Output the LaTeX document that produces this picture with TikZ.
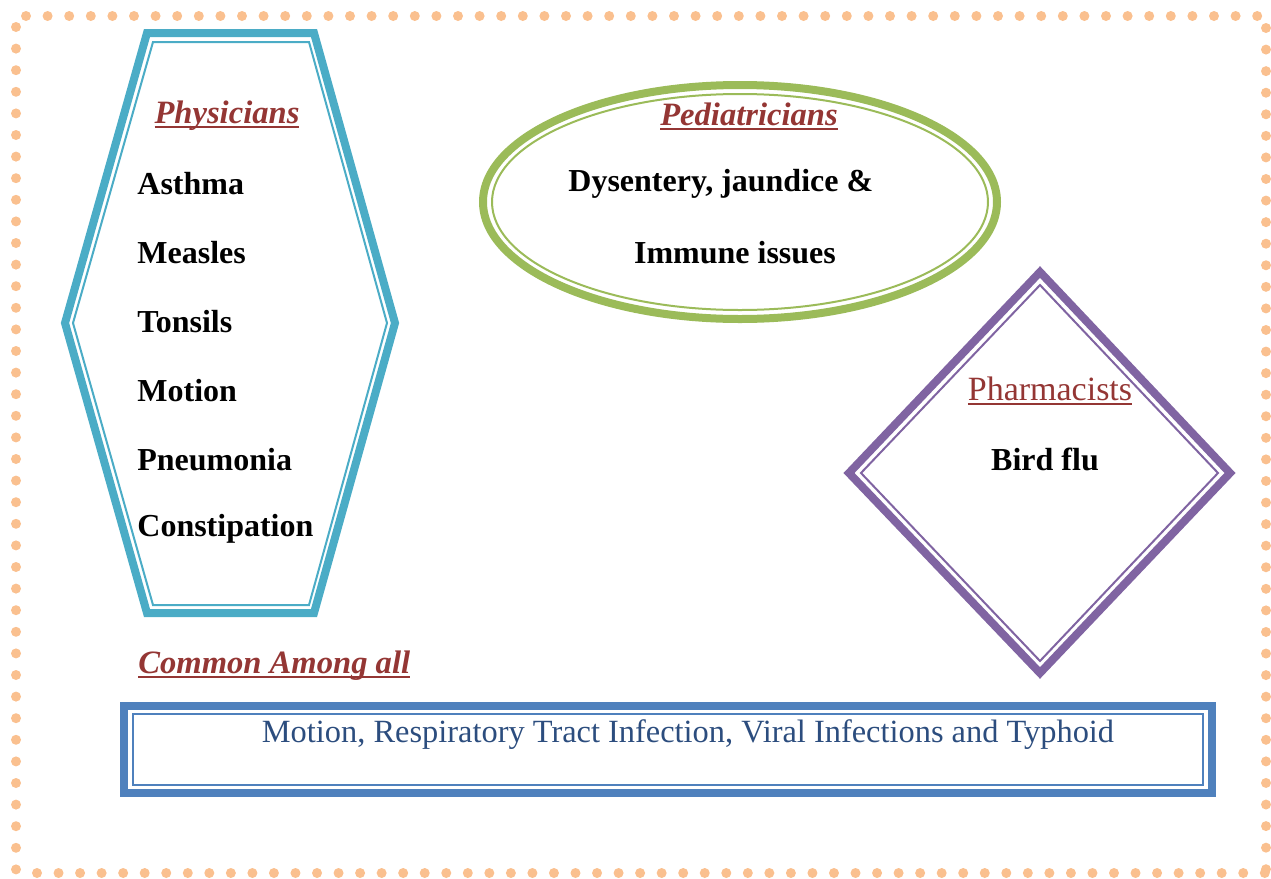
\documentclass[tikz,border=0pt]{standalone}
\usepackage{fontspec}
\setmainfont{Liberation Serif}
\usepackage{tikz}

\definecolor{dotorange}{RGB}{250,192,143}
\definecolor{hexcyan}{RGB}{75,172,198}
\definecolor{ellgreen}{RGB}{155,187,89}
\definecolor{diapurple}{RGB}{128,100,162}
\definecolor{boxblue}{RGB}{79,129,189}
\definecolor{headred}{RGB}{148,54,52}
\definecolor{textblue}{RGB}{44,77,126}

\newcommand{\wul}[1]{\setbox0\hbox{#1}\rlap{\rule[-2.2pt]{\wd0}{0.9pt}}\box0}

\begin{document}
\begin{tikzpicture}[x=0.5pt,y=-0.5pt,
    dot/.style={fill=dotorange},
    outerline/.style={line width=4pt, line join=miter},
    innerline/.style={line width=1pt},
    head/.style={font=\fontsize{16.3}{19}\selectfont\bfseries\itshape, text=headred},
    item/.style={font=\fontsize{16}{19}\selectfont\bfseries, anchor=west, inner sep=0pt}]
            \useasboundingbox (0,0) rectangle (1271,879);

            % dotted frame
            \foreach \i in {0,...,57} {
                \fill[dot] (26+21.6*\i,16) circle [radius=5];
                \fill[dot] (37+21.54*\i,873) circle [radius=5];
            }
            \foreach \j in {0,...,39} {
                \fill[dot] (16,27+21.6*\j) circle [radius=5];
                \fill[dot] (1266,28+21.57*\j) circle [radius=5];
            }

            % hexagon
            \draw[hexcyan, outerline] (147,33) -- (314,33) -- (395,323) -- (314,613) -- (147,613) -- (65,323) -- cycle;
            \draw[hexcyan, innerline] (153,42) -- (309,42) -- (387,323) -- (309,605) -- (153,605) -- (73,323) -- cycle;

            % ellipse
            \draw[ellgreen, outerline] (740,202) ellipse [x radius=257, y radius=117];
            \draw[ellgreen, innerline] (740,202) ellipse [x radius=248, y radius=108];

            % diamond
            \draw[diapurple, outerline] (1040,272) -- (1230,473) -- (1040,673) -- (849,473) -- cycle;
            \draw[diapurple, innerline] (1040,285) -- (1218,473) -- (1040,661) -- (861,473) -- cycle;

            % box
            \draw[boxblue, outerline] (124,706) rectangle (1212,793);
            \draw[boxblue, innerline] (133,714) rectangle (1203,785);

            \node[head] (phys) at (227,116) {\wul{Physicians}};
            \node[item] (asthma) at (137,184) {Asthma};
            \node[item] (measles) at (137,253) {Measles};
            \node[item] (tonsils) at (137,322) {Tonsils};
            \node[item] (motion) at (137,391) {Motion};
            \node[item] (pneu) at (137,460) {Pneumonia};
            \node[item] (const) at (137,529) {Constipation};

            \node[head] (pedi) at (749,116) {\wul{Pediatricians}};
            \node[item] (dys) at (568,184) {Dysentery, jaundice \&};
            \node[item, anchor=center] (immune) at (735,253) {Immune issues};

            \node[font=\fontsize{17}{20}\selectfont, text=headred] (pharm) at (1050,391) {\wul{Pharmacists}};
            \node[item, anchor=center] (bird) at (1045,459) {Bird flu};

            \node[head, anchor=west, inner sep=0pt] (common) at (138,666) {\wul{Common Among all}};
            \node[font=\fontsize{16.2}{19}\selectfont, text=textblue] (all) at (688,735)
                {Motion, Respiratory Tract Infection, Viral Infections and Typhoid};
        \end{tikzpicture}
\end{document}
